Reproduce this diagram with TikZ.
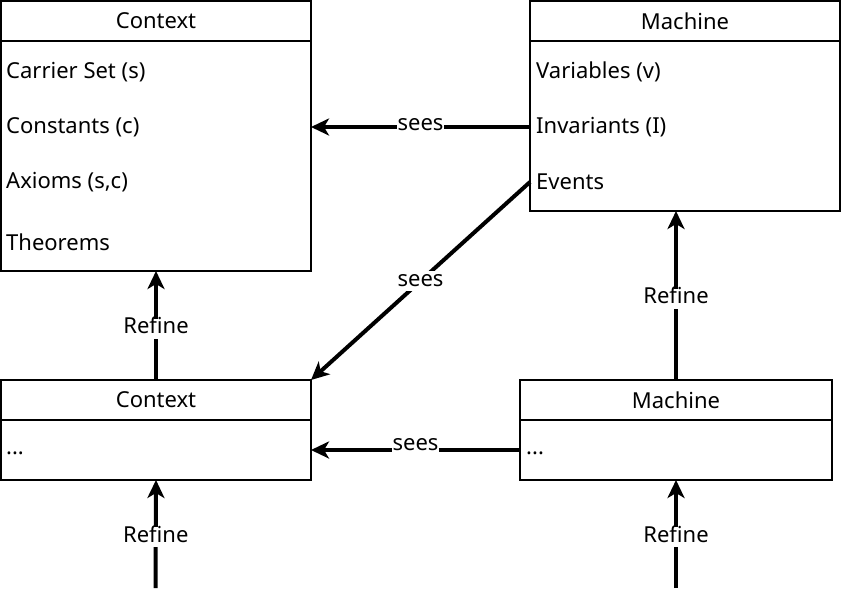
\documentclass[tikz,border=0pt]{standalone}
\usepackage{fontspec}
\setmainfont{Noto Sans}
\usetikzlibrary{arrows.meta,positioning}
\tikzset{
  header/.style={rectangle,draw=black,line width=1.5pt,minimum width=#1,minimum height=40pt,
    inner sep=0pt,outer sep=0pt,font=\fontsize{22}{26}\selectfont},
  header/.default=310pt,
  body/.style={rectangle,draw=black,line width=1.5pt,minimum width=310pt,
    inner sep=0pt,outer sep=0pt},
  item/.style={anchor=west,inner sep=0pt,font=\fontsize{22}{26}\selectfont},
  arrow/.style={-{Stealth[length=18pt,width=17pt,inset=5pt]},line width=4pt,draw=black},
  lbl/.style={fill=white,inner sep=1pt,text height=14pt,text depth=4pt,
    font=\fontsize{22}{26}\selectfont},
  reflbl/.style={lbl,yshift=-3pt}
}

\begin{document}
\begin{tikzpicture}[x=1pt,y=-1pt]
\useasboundingbox (0,0) rectangle (842,598);
% upper context
\node[header,anchor=north west] (ctxa) at (1,1) {Context};
\node[body,minimum height=230pt,below=0pt of ctxa] (ctxab) {};
\node[item] (carrier) at (6,72) {Carrier Set (s)};
\node[item] (consts) at (6,127) {Constants (c)};
\node[item] (axioms) at (6,182) {Axioms (s,c)};
\node[item] (thms) at (6,242) {Theorems};
% upper machine
\node[header,anchor=north west] (macha) at (530,1) {Machine};
\node[body,minimum height=170pt,below=0pt of macha] (machab) {};
\node[item] (vars) at (536,72) {Variables (v)};
\node[item] (invs) at (536,127) {Invariants (I)};
\node[item] (events) at (536,182) {Events};
% lower context
\node[header,anchor=north west] (ctxb) at (1,380) {Context};
\node[body,minimum height=60pt,below=0pt of ctxb] (ctxbb) {};
\node[item] (ctxdots) at (6,453) {...};
% lower machine
\node[header=312pt,anchor=north west] (machb) at (520,380) {Machine};
\node[body,minimum width=312pt,minimum height=60pt,below=0pt of machb] (machbb) {};
\node[item] (machdots) at (526,453) {...};
% free ends
\coordinate (ctxin) at (155.5,588);
\coordinate (machin) at (676,588);
% connectors
\draw[arrow] (invs.west -| macha.west) -- (ctxab.east |- invs.west) node[lbl,midway,yshift=2pt] {sees};
\draw[arrow] (events.west -| macha.west) -- (ctxb.north east) node[lbl,midway] {sees};
\draw[arrow] (machbb.west) -- (ctxbb.east) node[lbl,midway,yshift=5pt] {sees};
\draw[arrow] (ctxb.north) -- (ctxab.south) node[reflbl,midway] {Refine};
\draw[arrow] (machb.north) -- (machab.south -| machb.north) node[reflbl,midway] {Refine};
\draw[arrow] (ctxin) -- (ctxbb.south) node[reflbl,midway] {Refine};
\draw[arrow] (machin) -- (machbb.south) node[reflbl,midway] {Refine};
\end{tikzpicture}
\end{document}
